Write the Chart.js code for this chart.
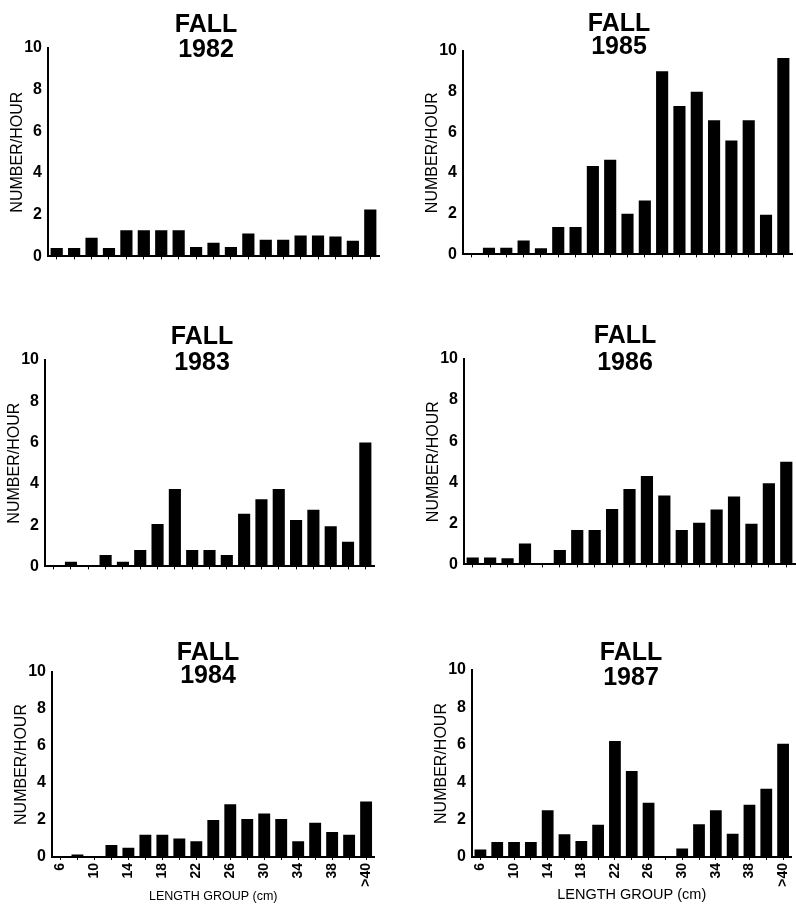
<!DOCTYPE html>
<html><head><meta charset="utf-8">
<script src="https://cdn.jsdelivr.net/npm/chart.js@4.4.1/dist/chart.umd.min.js"></script>
<style>
html,body{margin:0;padding:0;background:#fff;width:796px;height:904px;overflow:hidden;position:relative;}
canvas{position:absolute;}
</style></head><body>
<script>
// ---- data ----
const categories = ['6','8','10','12','14','16','18','20','22','24','26','28','30','32','34','36','38','40','>40'];
const shownTicks = ['6','10','14','18','22','26','30','34','38','>40'];
const yTickStep = 2;
const yMax = 10;
const fall1982 = [0.4,0.4,0.9,0.4,1.25,1.25,1.25,1.25,0.45,0.65,0.45,1.1,0.8,0.8,1.0,1.0,0.95,0.75,2.25];
const fall1983 = [0.03,0.22,0.02,0.55,0.22,0.8,2.05,3.75,0.8,0.8,0.55,2.55,3.25,3.75,2.25,2.75,1.95,1.2,6.0];
const fall1984 = [0.03,0.13,0.02,0.65,0.5,1.2,1.2,1.0,0.85,2.0,2.85,2.05,2.35,2.05,0.85,1.85,1.35,1.2,3.0];
const fall1985 = [0.05,0.33,0.33,0.68,0.3,1.35,1.35,4.35,4.65,2.0,2.65,9.0,7.3,8.0,6.6,5.6,6.6,1.95,9.65];
const fall1986 = [0.33,0.33,0.3,1.02,0,0.7,1.67,1.67,2.7,3.67,4.3,3.35,1.67,2.03,2.67,3.3,1.98,3.95,5.0];
const fall1987 = [0.4,0.8,0.8,0.8,2.5,1.22,0.85,1.72,6.2,4.6,2.9,0.03,0.45,1.75,2.5,1.25,2.8,3.65,6.05];
const seasonLabel = 'FALL';
const yAxisLabel = 'NUMBER/HOUR';
const xAxisLabel = 'LENGTH GROUP (cm)';

// ---- layout (page pixel positions of each panel) ----
const FAMILY = '"Liberation Sans", Arial, Helvetica, sans-serif';
const panels = [
  {year:'1982', data:fall1982, left:48,  right:379, top:48,  bottom:262, bottomRow:false, tx:206, ty1:32,  ty2:57},
  {year:'1985', data:fall1985, left:463, right:792, top:51,  bottom:260, bottomRow:false, tx:619, ty1:31,  ty2:54},
  {year:'1983', data:fall1983, left:45,  right:374, top:360, bottom:572, bottomRow:false, tx:202, ty1:344, ty2:370},
  {year:'1986', data:fall1986, left:464, right:795, top:359, bottom:570, bottomRow:false, tx:625, ty1:343, ty2:370},
  {year:'1984', data:fall1984, left:52,  right:382, top:672, bottom:857, bottomRow:true,  tx:208, ty1:660, ty2:683, xts:12.5},
  {year:'1987', data:fall1987, left:472, right:799, top:670, bottom:857, bottomRow:true,  tx:631, ty1:660, ty2:685, xts:14.5}
];

const panelTitle = {
  id:'panelTitle',
  afterDraw(chart, args, o){
    const ctx = chart.ctx;
    ctx.save();
    ctx.fillStyle = '#000';
    ctx.font = 'bold 25px ' + FAMILY;
    ctx.textAlign = 'center';
    ctx.textBaseline = 'alphabetic';
    ctx.fillText(o.line1, o.x, o.y1);
    ctx.fillText(o.line2, o.x, o.y2);
    ctx.restore();
  }
};

const YW = 48, PT = 50, PR = 4;
panels.forEach(p => {
  const x0 = p.left - YW;
  const y0 = p.top - PT;
  const xh = p.bottomRow ? (904 - p.bottom) : 10;
  const w = p.right - x0 + PR;
  const h = p.bottom - y0 + xh;
  const cv = document.createElement('canvas');
  cv.width = w; cv.height = h;
  cv.style.left = x0 + 'px'; cv.style.top = y0 + 'px';
  cv.style.width = w + 'px'; cv.style.height = h + 'px';
  document.body.appendChild(cv);
  new Chart(cv, {
    type:'bar',
    data:{labels:categories, datasets:[{data:p.data, backgroundColor:'#000', borderWidth:0, barPercentage:0.7, categoryPercentage:1.0}]},
    options:{
      responsive:false, animation:false, devicePixelRatio:1,
      layout:{padding:{top:PT, right:PR, left:0, bottom:0}},
      plugins:{legend:{display:false}, tooltip:{enabled:false}, title:{display:false},
        panelTitle:{line1:seasonLabel, line2:p.year, x:p.tx - x0, y1:p.ty1 - y0, y2:p.ty2 - y0}},
      scales:{
        x:{
          type:'category', offset:true,
          grid:{display:true, offset:false, drawOnChartArea:false, drawTicks:true, tickLength:3, color:'#000', lineWidth:1},
          border:{display:true, color:'#000', width:2},
          ticks:{display:p.bottomRow, autoSkip:false, maxRotation:90, minRotation:90, padding:3, color:'#000',
            font:{family:FAMILY, size:14, weight:'bold'},
            callback:(v,i)=>{ const c = categories[i]; return shownTicks.includes(c) ? c : ''; }},
          title:{display:p.bottomRow, text:xAxisLabel, color:'#000', font:{family:FAMILY, size:p.xts||13}, padding:{top:0,bottom:0}},
          afterFit:(s)=>{ s.height = xh; }
        },
        y:{
          min:0, max:yMax,
          ticks:{stepSize:yTickStep, padding:6, color:'#000', font:{family:FAMILY, size:16, weight:'bold'}},
          grid:{display:false, drawTicks:false, tickLength:0},
          border:{display:true, color:'#000', width:2},
          title:{display:true, text:yAxisLabel, color:'#000', font:{family:FAMILY, size:16}, padding:{top:8,bottom:0}},
          afterFit:(s)=>{ s.width = YW; }
        }
      }
    },
    plugins:[panelTitle]
  });
});
</script>
</body></html>
